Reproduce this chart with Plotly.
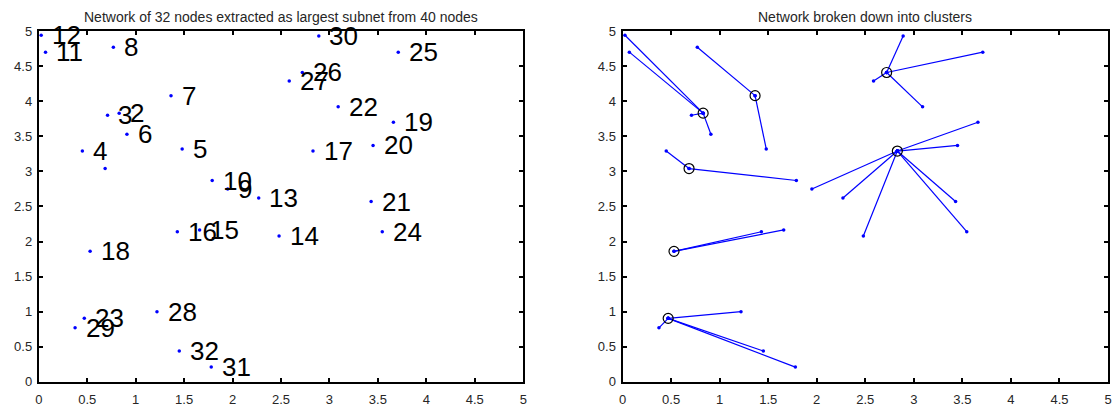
import plotly.graph_objects as go

# ---- data ----
node_ids = list(range(1, 33))
node_x = [0.685, 0.83, 0.71, 0.45, 1.48, 0.91, 1.365, 0.77, 1.95, 1.79,
          0.07, 0.025, 2.27, 2.48, 1.66, 1.43, 2.83, 0.53, 3.66, 3.45,
          3.43, 3.09, 0.47, 3.545, 3.71, 2.72, 2.585, 1.22, 0.375, 2.89,
          1.78, 1.45]
node_y = [3.04, 3.83, 3.80, 3.29, 3.32, 3.53, 4.08, 4.77, 2.75, 2.87,
          4.70, 4.94, 2.62, 2.08, 2.165, 2.14, 3.29, 1.86, 3.70, 3.37,
          2.57, 3.92, 0.905, 2.14, 4.70, 4.41, 4.29, 1.00, 0.77, 4.93,
          0.21, 0.44]
node_labels = ["", "2", "3", "4", "5", "6", "7", "8", "9", "10",
               "11", "12", "13", "14", "15", "16", "17", "18", "19", "20",
               "21", "22", "23", "24", "25", "26", "27", "28", "29", "30",
               "31", "32"]

cluster_heads = [2, 7, 1, 26, 17, 18, 23]
cluster_members = [
    [12, 11, 3, 6],
    [8, 5],
    [4, 10],
    [30, 25, 27, 22],
    [19, 20, 9, 13, 14, 21, 24],
    [16, 15],
    [29, 28, 32, 31],
]

title_left = "Network of 32 nodes extracted as largest subnet from 40 nodes"
title_right = "Network broken down into clusters"
tick_vals = [0, 0.5, 1, 1.5, 2, 2.5, 3, 3.5, 4, 4.5, 5]
tick_text = ["0", "0.5", "1", "1.5", "2", "2.5", "3", "3.5", "4", "4.5", "5"]

# ---- figure ----
W, H = 1116, 412
FONT = "Liberation Sans, Arial, Helvetica, sans-serif"
BLUE = "#0000ff"

fig = go.Figure()

# left panel: nodes
fig.add_trace(go.Scatter(x=node_x, y=node_y, mode="markers",
                         marker=dict(color=BLUE, size=3.5),
                         xaxis="x", yaxis="y", showlegend=False,
                         hoverinfo="skip"))

# right panel: cluster edges
for head, members in zip(cluster_heads, cluster_members):
    hx, hy = node_x[head - 1], node_y[head - 1]
    for m in members:
        fig.add_trace(go.Scatter(x=[hx, node_x[m - 1]], y=[hy, node_y[m - 1]],
                                 mode="lines+markers",
                                 line=dict(color=BLUE, width=1.2),
                                 marker=dict(color=BLUE, size=3.5),
                                 xaxis="x2", yaxis="y2", showlegend=False,
                                 hoverinfo="skip"))
fig.add_trace(go.Scatter(x=[node_x[h - 1] for h in cluster_heads],
                         y=[node_y[h - 1] for h in cluster_heads],
                         mode="markers",
                         marker=dict(symbol="circle-open", color="black", size=10,
                                     line=dict(width=1.2)),
                         xaxis="x2", yaxis="y2", showlegend=False,
                         hoverinfo="skip"))

annotations = []
for xv, yv, lab in zip(node_x, node_y, node_labels):
    if lab:
        annotations.append(dict(x=xv + 0.1, y=yv, xref="x", yref="y", text=lab,
                                showarrow=False, xanchor="left", yanchor="middle",
                                font=dict(family=FONT, size=26, color="black"),
                                borderpad=0))

x1d = [35 / W, 523 / W]
x2d = [623 / W, 1112 / W]
yd = [(H - 389) / H, (H - 25) / H]

annotations.append(dict(x=(x1d[0] + x1d[1]) / 2, y=(H - 10) / H, xref="paper", yref="paper",
                        text=title_left, showarrow=False, xanchor="center", yanchor="middle",
                        font=dict(family=FONT, size=14, color="#262626")))
annotations.append(dict(x=(x2d[0] + x2d[1]) / 2, y=(H - 10) / H, xref="paper", yref="paper",
                        text=title_right, showarrow=False, xanchor="center", yanchor="middle",
                        font=dict(family=FONT, size=14, color="#262626")))

axis_common = dict(range=[0, 5], tickmode="array", tickvals=tick_vals, ticktext=tick_text,
                   showgrid=False, zeroline=False, showline=True, linecolor="black",
                   linewidth=2, mirror="ticks", ticks="inside", ticklen=4,
                   tickwidth=1.5, tickcolor="black",
                   tickfont=dict(family=FONT, size=13, color="#262626"))

fig.update_layout(
    width=W, height=H, margin=dict(l=0, r=0, t=0, b=0),
    paper_bgcolor="white", plot_bgcolor="white",
    xaxis=dict(domain=x1d, anchor="y", ticklabelstandoff=5, **axis_common),
    yaxis=dict(domain=yd, anchor="x", ticklabelstandoff=2, **axis_common),
    xaxis2=dict(domain=x2d, anchor="y2", ticklabelstandoff=5, **axis_common),
    yaxis2=dict(domain=yd, anchor="x2", ticklabelstandoff=2, **axis_common),
    annotations=annotations,
)

fig.write_html("out.html")
